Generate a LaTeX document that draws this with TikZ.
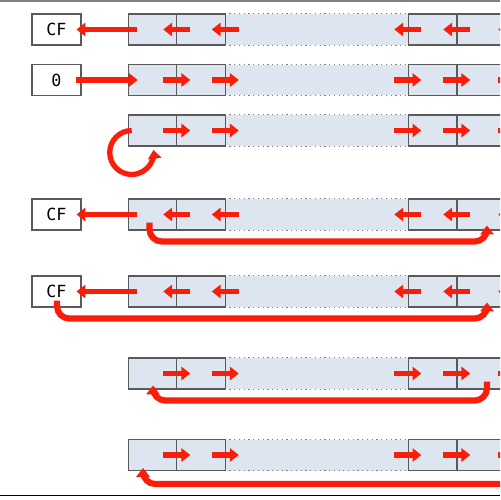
\documentclass[tikz,border=0pt]{standalone}
\usepackage{fontspec}
\newfontfamily\codefont{DejaVu Sans Mono}
\usepackage{tikz}
\usetikzlibrary{arrows.meta, calc}
\definecolor{ptrred}{RGB}{250,30,10}
\definecolor{cellfill}{RGB}{221,230,240}
\definecolor{celledge}{RGB}{90,90,90}
\tikzset{
  cell/.style={draw=celledge, fill=cellfill, line width=0.6pt, inner sep=0pt, minimum width=0.97cm, minimum height=0.62cm},
  gapcell/.style={fill=cellfill, inner sep=0pt, minimum width=3.66cm, minimum height=0.62cm},
  gapline/.style={draw=gray, line width=0.7pt, dotted},
  regbox/.style={draw=celledge, fill=white, line width=0.6pt, inner sep=0pt, minimum width=0.98cm, minimum height=0.62cm, font=\codefont\fontsize{9.5}{11}\selectfont},
  ptr/.style={draw=ptrred, line width=3pt, -{Triangle[length=5pt, width=7.5pt]}},
  jmp/.style={draw=ptrred, line width=3.5pt, rounded corners=7, -{Triangle[length=5pt, width=7.5pt]}}
}
% one strip of cells: name prefix, row centre
\newcommand{\cellrow}[2]{
\node[gapcell] (#1g) at (316.5,#2) {};
\draw[gapline] (#1g.north west) -- (#1g.north east) (#1g.south west) -- (#1g.south east);
\node[cell] (#1a) at (152.5,#2) {};
\node[cell] (#1b) at (201,#2) {};
\node[cell] (#1c) at (432.5,#2) {};
\node[cell] (#1d) at (481.5,#2) {};
}
\newcommand{\leftptrs}[1]{
\foreach \k in {a,b,g,c} \draw[ptr] ($(#1\k.east)+(13,0)$) -- ($(#1\k.east)+(-14,0)$);
\draw[ptr] ($(#1d.east)+(19,0)$) -- ($(#1d.east)+(-8,0)$);}
\newcommand{\rightptrs}[1]{
\foreach \k in {a,b,g,c} \draw[ptr] ($(#1\k.east)+(-14,0)$) -- ($(#1\k.east)+(13,0)$);
\draw[ptr] ($(#1d.east)+(-8,0)$) -- ($(#1d.east)+(19,0)$);}

\begin{document}
\begin{tikzpicture}[x=0.02cm, y=-0.02cm]
\clip (0,0) rectangle (500,500);
\draw[gray, line width=1.2pt] (0,0.5) -- (500,0.5);
\draw[black, line width=1pt] (0,495.5) -- (500,495.5);
% row 1
\cellrow{r1}{29.5}
\node[regbox] (cf1) at (56.5,29.5) {CF};
\leftptrs{r1}
\draw[ptr] ($(r1a.west)+(9,0)$) -- ($(cf1.east)+(-5,0)$);
% row 2
\cellrow{r2}{80}
\node[regbox] (z2) at (56.5,80) {0};
\rightptrs{r2}
\draw[ptr] ($(z2.east)+(-6,0)$) -- ($(r2a.west)+(10,0)$);
% row 3
\cellrow{r3}{130.5}
\rightptrs{r3}
\draw[ptr] ($(r3a.west)+(4,0)$) arc[start angle=-90, end angle=-367, radius=22];
% row 4
\cellrow{r4}{214.5}
\node[regbox] (cf4) at (56.5,214.5) {CF};
\leftptrs{r4}
\draw[ptr] ($(r4a.west)+(9,0)$) -- ($(cf4.east)+(-5,0)$);
\draw[jmp] ($(r4a.south)+(-3,-8)$) |- ($(r4d.south)+(5.5,11)$) -- ($(r4d.south)+(5.5,-5)$);
% row 5
\cellrow{r5}{291.5}
\node[regbox] (cf5) at (56.5,291.5) {CF};
\leftptrs{r5}
\draw[ptr] ($(r5a.west)+(9,0)$) -- ($(cf5.east)+(-5,0)$);
\draw[jmp] ($(cf5.south)+(0.5,-7)$) |- ($(r5d.south)+(5.5,11)$) -- ($(r5d.south)+(5.5,-5)$);
% row 6
\cellrow{r6}{373.5}
\rightptrs{r6}
\draw[jmp] ($(r6d.south)+(5.5,-8)$) |- ($(r6a.south)+(0.5,11)$) -- ($(r6a.south)+(0.5,-4)$);
% row 7
\cellrow{r7}{455}
\rightptrs{r7}
\coordinate (off7) at (530,484);
\draw[jmp] (off7) -| ($(r7a.south)+(-9.5,-3)$);
\end{tikzpicture}
\end{document}
